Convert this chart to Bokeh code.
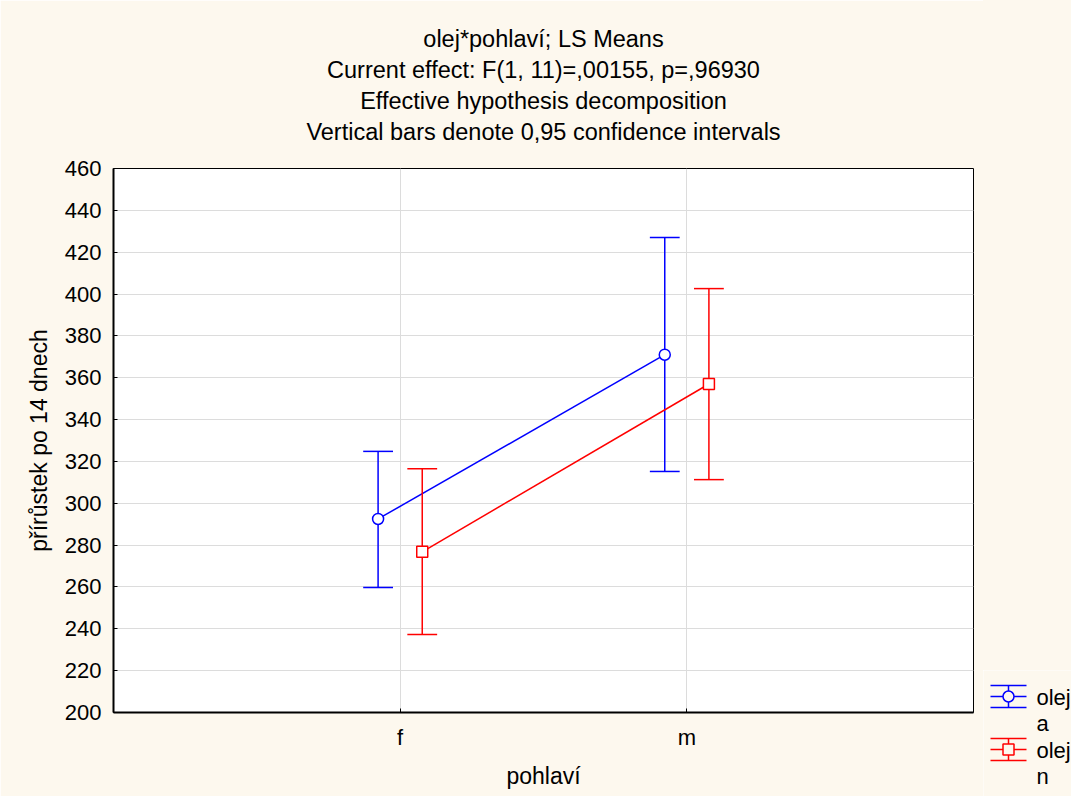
from bokeh.plotting import figure
from bokeh.models import FixedTicker, Range1d, Title, Spacer
from bokeh.layouts import row, column
from bokeh.embed import file_html
from bokeh.resources import INLINE
from bokeh.core.properties import value

# ---- data ----
categories = ["f", "m"]
series_names = ["olej a", "olej n"]
legend_lines = [["olej", "a"], ["olej", "n"]]
mean_a = [292.5, 371.0]
low_a = [259.8, 315.2]
high_a = [324.8, 427.0]
mean_n = [276.8, 357.0]
low_n = [237.3, 311.3]
high_n = [316.5, 402.6]
y_ticks = [200, 220, 240, 260, 280, 300, 320, 340, 360, 380, 400, 420, 440, 460]
title_lines = [
    "olej*pohlaví; LS Means",
    "Current effect: F(1, 11)=,00155, p=,96930",
    "Effective hypothesis decomposition",
    "Vertical bars denote 0,95 confidence intervals",
]
x_label = "pohlaví"
y_label = "přírůstek po 14 dnech"

BG = "#FDF8EE"
FONT = "Liberation Sans"
colors = ["#0000FF", "#FF0000"]
offsets = [-0.077, 0.077]
cap = 0.052

p = figure(frame_width=860, frame_height=544, output_backend="svg", toolbar_location=None,
           x_range=Range1d(0, 3), y_range=Range1d(200, 460),
           min_border_left=113, min_border_right=10, min_border_top=168, min_border_bottom=84)
p.background_fill_color = "white"
p.border_fill_color = BG
p.outline_line_color = "black"
p.outline_line_width = 1

# spacer line between the title block and the plot frame
p.add_layout(Title(text=" ", standoff=18.5, text_font_size="1px", text_color=BG), "above")
for t in reversed(title_lines):
    p.add_layout(Title(text=t, align="center", text_font=FONT, text_font_size="23.5px",
                       text_font_style="normal", text_color="black", standoff=2.5), "above")

xpos = list(range(1, len(categories) + 1))
p.xaxis.ticker = FixedTicker(ticks=xpos)
p.xaxis.major_label_overrides = {x: c for x, c in zip(xpos, categories)}
p.yaxis.ticker = FixedTicker(ticks=y_ticks)

for ax in (p.xaxis[0], p.yaxis[0]):
    ax.major_label_text_font = FONT
    ax.major_label_text_font_size = "22px"
    ax.major_label_text_color = "black"
    ax.axis_label_text_font = FONT
    ax.axis_label_text_font_size = "23px"
    ax.axis_label_text_font_style = "normal"
    ax.axis_label_text_color = "black"
    ax.axis_line_color = "black"
    ax.axis_line_width = 2
    ax.major_tick_line_color = "black"
    ax.major_tick_in = 4
    ax.major_tick_out = 0
    ax.minor_tick_line_color = None
p.xaxis.axis_label = x_label
p.yaxis.axis_label = y_label
p.xaxis.major_label_standoff = 12
p.yaxis.major_label_standoff = 12
p.xaxis.axis_label_standoff = 10
p.yaxis.axis_label_standoff = 10

p.xgrid.ticker = FixedTicker(ticks=xpos)
p.ygrid.ticker = FixedTicker(ticks=y_ticks)
p.grid.grid_line_color = "#DCDCDC"
p.grid.grid_line_width = 1

all_means = [mean_a, mean_n]
all_low = [low_a, low_n]
all_high = [high_a, high_n]
markers = ["circle", "square"]
for i in range(2):
    xs = [x + offsets[i] for x in xpos]
    c = colors[i]
    p.line(xs, all_means[i], line_color=c, line_width=1.5)
    p.segment(xs, all_low[i], xs, all_high[i], line_color=c, line_width=1.5)
    p.segment([x - cap for x in xs], all_low[i], [x + cap for x in xs], all_low[i], line_color=c, line_width=1.5)
    p.segment([x - cap for x in xs], all_high[i], [x + cap for x in xs], all_high[i], line_color=c, line_width=1.5)
    p.scatter(xs, all_means[i], marker=markers[i], size=11, line_color=c, fill_color="white", line_width=1.5)

# ---- legend panel (placed in the right margin, below a spacer) ----
LT = 670          # top of legend panel on the page
LH = 796 - LT     # legend panel height
leg = figure(width=88, height=LH, output_backend="svg", toolbar_location=None,
             x_range=Range1d(0, 88), y_range=Range1d(LH, 0), min_border=0)
leg.axis.visible = False
leg.grid.visible = False
leg.outline_line_color = None
leg.background_fill_color = BG
leg.border_fill_color = BG

item_top = [685 - LT, 738 - LT]
for i in range(2):
    c = colors[i]
    t = item_top[i]
    xl, xr, xc = 7, 43, 25
    ys = [t, t + 11, t + 22]
    leg.segment([xl] * 3, ys, [xr] * 3, ys, line_color=c, line_width=1.5)
    leg.segment([xc], [t], [xc], [t + 22], line_color=c, line_width=1.5)
    leg.scatter([xc], [t + 11], marker=markers[i], size=11, line_color=c, fill_color=BG, line_width=1.5)
    leg.text([53, 53], [t + 12, t + 38], text=legend_lines[i], text_font=value(FONT),
             text_font_size="22px", text_baseline="alphabetic", text_align="left", text_color="black")

top_space = Spacer(width=88, height=LT, styles={"background-color": BG})
layout = row(p, column(top_space, leg, spacing=0), spacing=0)
open("out.html", "w").write(file_html(layout, INLINE))
